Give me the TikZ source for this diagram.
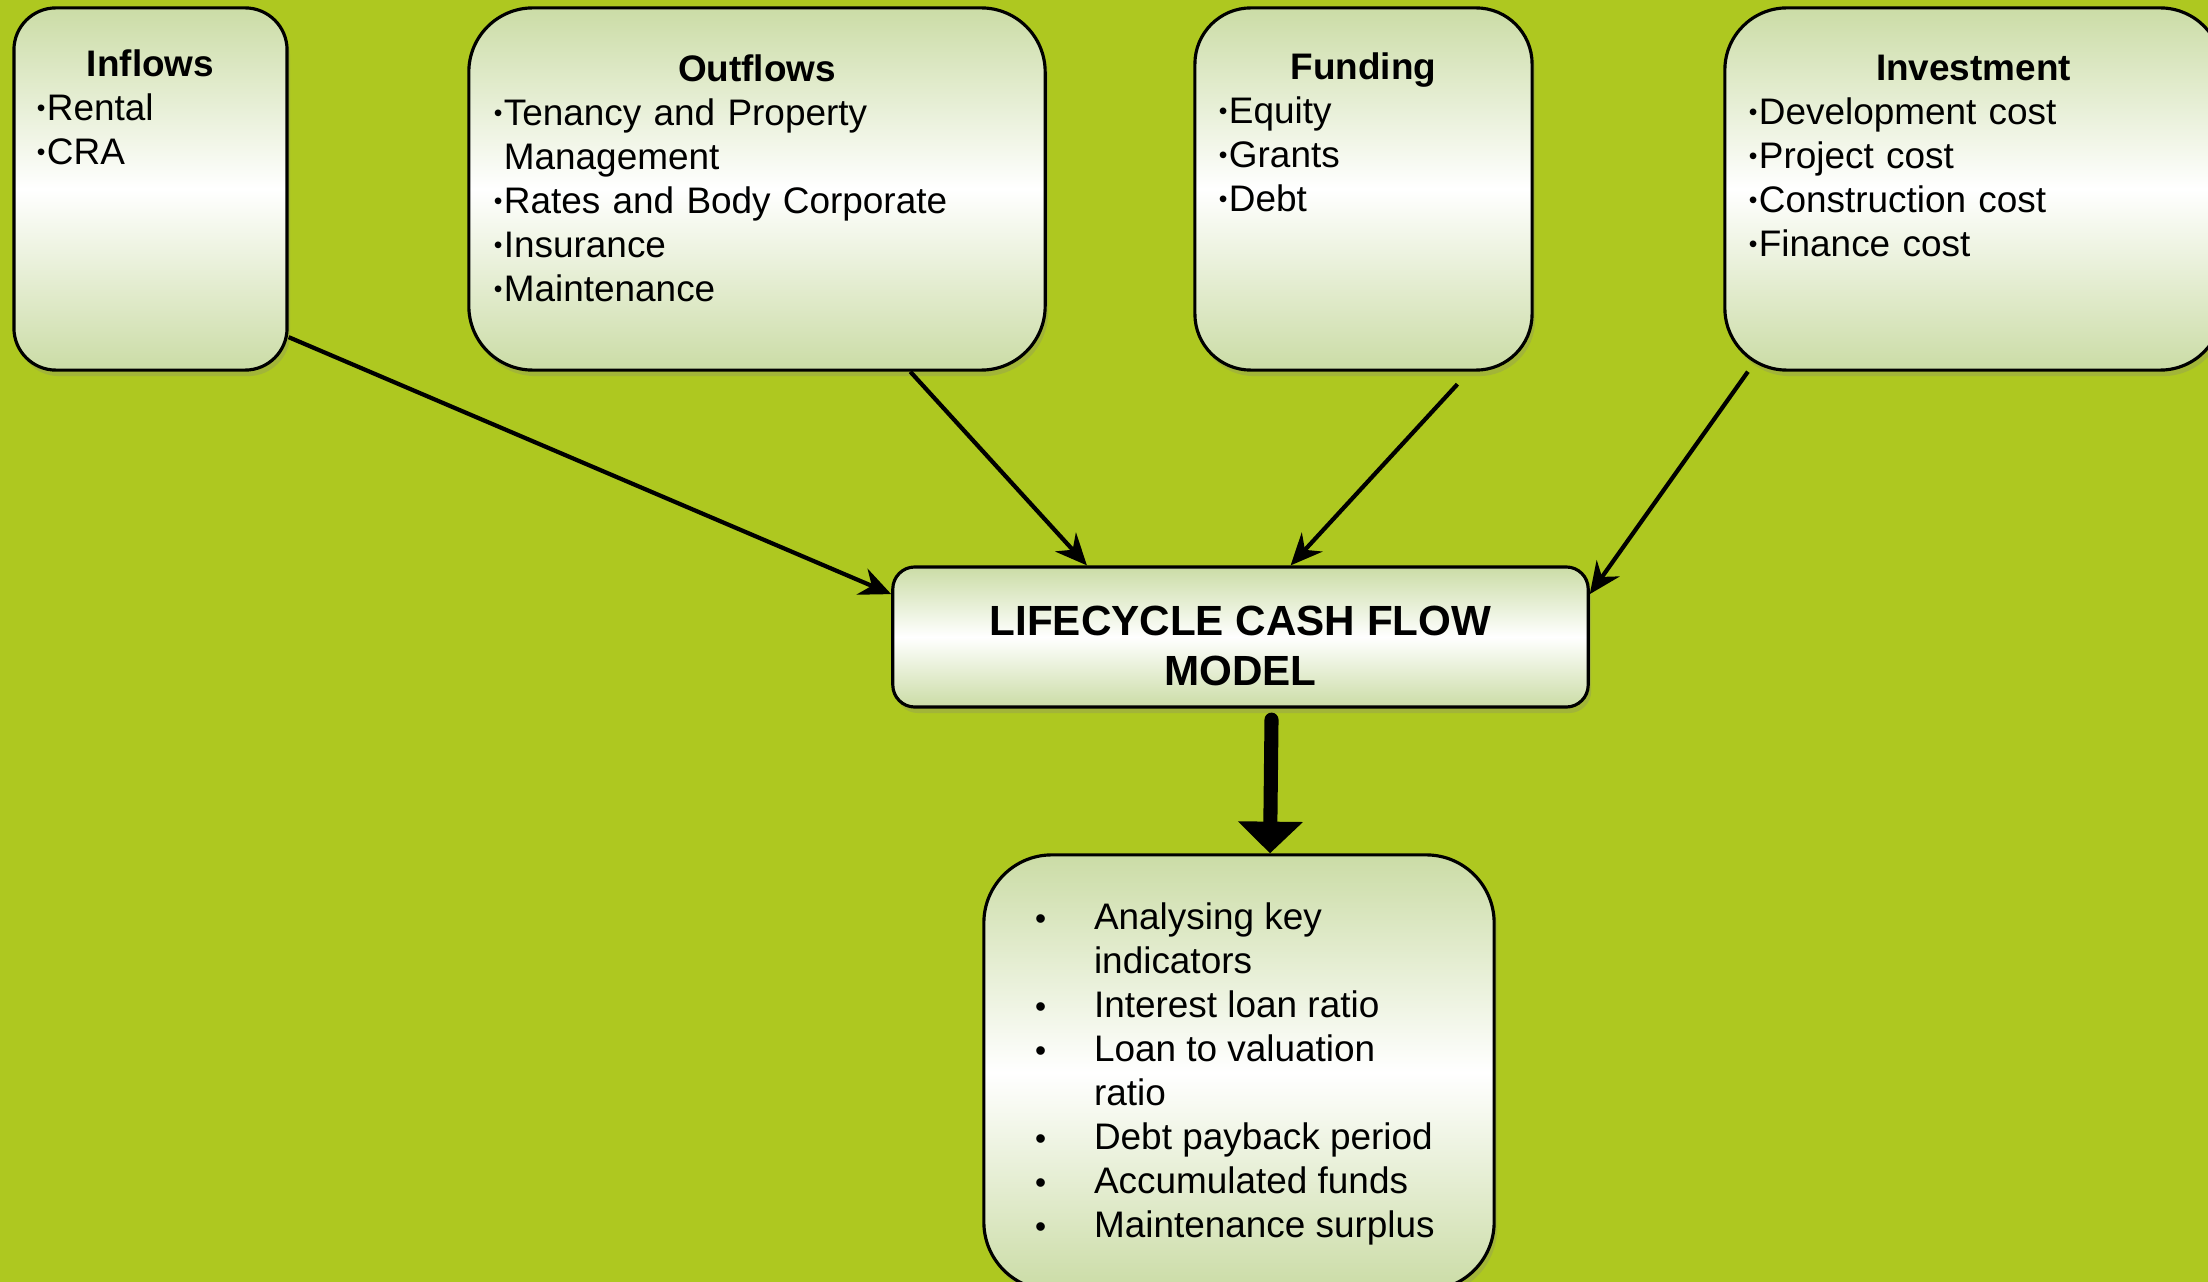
\documentclass[tikz,border=0pt]{standalone}
\usepackage{fontspec}
\setmainfont{Liberation Sans}
\usetikzlibrary{arrows.meta,shadows}

\definecolor{lime}{RGB}{174,200,32}
\definecolor{pale}{RGB}{203,220,166}

\def\itm{\raisebox{1.1pt}{\scriptsize\textbullet}\hspace{0.4pt}}
\def\bul{\makebox[0.59cm][l]{\small\textbullet}}
\def\ind{\makebox[0.59cm]{}}

\tikzstyle{box} = [draw=black, line width=0.9pt, top color=pale, bottom color=pale, middle color=white, drop shadow={opacity=0.25,shadow xshift=0.03cm,shadow yshift=-0.06cm}, inner sep=0pt]
\tikzstyle{box text} = [inner sep=0pt, align=left, font=\fontsize{10.5pt}{12.5pt}\selectfont]
\tikzstyle{edge} = [draw, line width=1.2pt, -{Stealth[length=9pt,width=8pt,inset=3pt]}]
\tikzstyle{big edge} = [draw, line width=4pt, line cap=round, -{Triangle[length=9pt,width=18pt]}]

\begin{document}
\begin{tikzpicture}[x=0.01cm, y=-0.01cm]
       \useasboundingbox (0,0) rectangle (2208,1282);
       \fill[lime] (0,0) rectangle (2208,1282);

       % top row
       \node[box, minimum width=2.73cm, minimum height=3.62cm, rounded corners=0.42cm] (inflows) at (150.5,189) {};
       \node[box text, text width=2.27cm, anchor=north] (inflows-list) at ([yshift=-0.43cm]inflows.north) {\makebox[\hsize]{\bfseries Inflows}\\ \itm Rental\\ \itm CRA};

       \node[box, minimum width=5.76cm, minimum height=3.62cm, rounded corners=0.64cm] (outflows) at (757,189) {};
       \node[box text, text width=5.26cm, anchor=north] (outflows-list) at ([yshift=-0.48cm]outflows.north) {\makebox[\hsize]{\bfseries Outflows}\\ \itm Tenancy and Property\\ \phantom{\itm}Management\\ \itm Rates and Body Corporate\\ \itm Insurance\\ \itm Maintenance};

       \node[box, minimum width=3.37cm, minimum height=3.62cm, rounded corners=0.56cm] (funding) at (1363.5,189) {};
       \node[box text, text width=2.89cm, anchor=north] (funding-list) at ([yshift=-0.46cm]funding.north) {\makebox[\hsize]{\bfseries Funding}\\ \itm Equity\\ \itm Grants\\ \itm Debt};

       \node[box, minimum width=4.97cm, minimum height=3.62cm, rounded corners=0.62cm] (investment) at (1973.5,189) {};
       \node[box text, text width=4.49cm, anchor=north] (investment-list) at ([yshift=-0.48cm]investment.north) {\makebox[\hsize]{\bfseries Investment}\\ \itm Development cost\\ \itm Project cost\\ \itm Construction cost\\ \itm Finance cost};

       % model and results
       \node[box, minimum width=6.95cm, minimum height=1.40cm, rounded corners=0.22cm, align=center, font=\fontsize{12pt}{14.2pt}\selectfont\bfseries] (model) at (1240.5,637) {\rule{0pt}{0.48cm}LIFECYCLE CASH FLOW\\MODEL};

       \node[box, minimum width=5.10cm, minimum height=4.35cm, rounded corners=0.68cm] (results) at (1239,1072.5) {};
       \node[box text, anchor=north west] (results-list) at ([xshift=0.52cm,yshift=-0.49cm]results.north west) {\bul Analysing key\\ \ind indicators\\ \bul Interest loan ratio\\ \bul Loan to valuation\\ \ind ratio\\ \bul Debt payback period\\ \bul Accumulated funds\\ \bul Maintenance surplus};

       \foreach \source/\sink/\cut in {inflows.-47.7/model.173/0, outflows.-50.6/model.155.2/0, funding.-60.2/model.55.1/0.17, investment.-141.8/model.7.5/0} {
           \path[edge, shorten <=\cut cm] (\source) -- (\sink);
       }
       \path[big edge] ([xshift=0.31cm,yshift=-0.11cm]model.south) -- ([xshift=0.31cm]results.north);
\end{tikzpicture}
\end{document}
